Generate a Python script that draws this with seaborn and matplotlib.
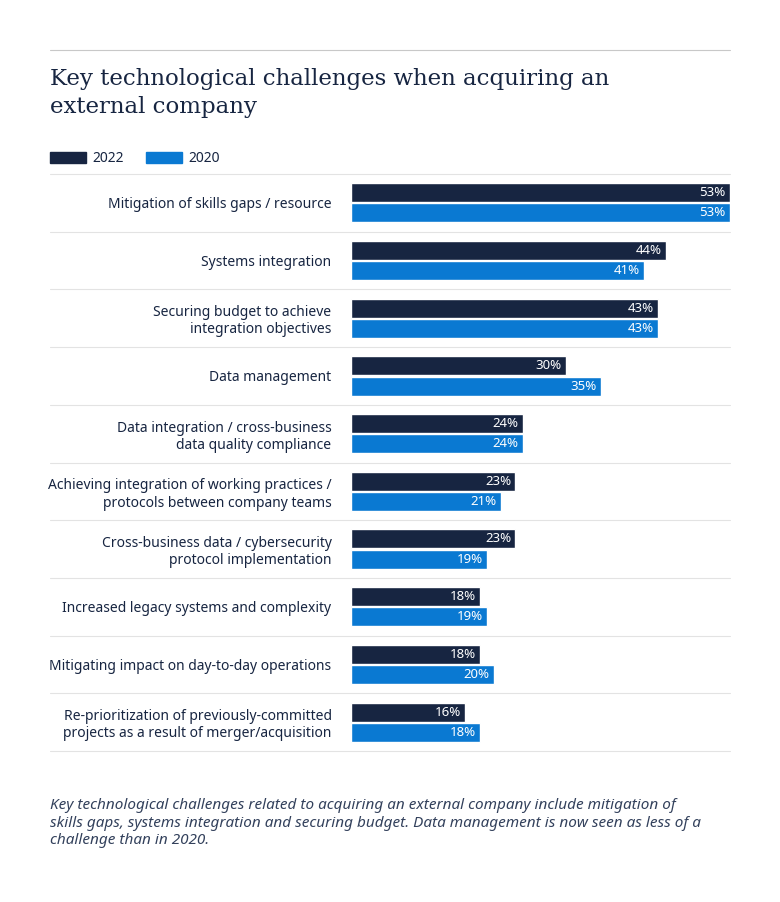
import matplotlib
matplotlib.use("Agg")
import matplotlib.pyplot as plt
import seaborn as sns
import pandas as pd

categories = [
    "Mitigation of skills gaps / resource",
    "Systems integration",
    "Securing budget to achieve\nintegration objectives",
    "Data management",
    "Data integration / cross-business\ndata quality compliance",
    "Achieving integration of working practices /\nprotocols between company teams",
    "Cross-business data / cybersecurity\nprotocol implementation",
    "Increased legacy systems and complexity",
    "Mitigating impact on day-to-day operations",
    "Re-prioritization of previously-committed\nprojects as a result of merger/acquisition",
]
values_2022 = [53, 44, 43, 30, 24, 23, 23, 18, 18, 16]
values_2020 = [53, 41, 43, 35, 24, 21, 19, 19, 20, 18]
series = ["2022", "2020"]
colors = {"2022": "#172541", "2020": "#0a79d2"}

df = pd.DataFrame({
    "category": categories * 2,
    "year": ["2022"] * len(categories) + ["2020"] * len(categories),
    "value": values_2022 + values_2020,
})

sns.set_style("white")
plt.rcParams["font.family"] = ["Noto Sans", "DejaVu Sans"]
navy = "#172541"

fig = plt.figure(figsize=(7.8, 9.02), dpi=100)
ax = fig.add_axes([351 / 780, 1 - 751 / 902, 379 / 780, 577 / 902])

sns.barplot(data=df, y="category", x="value", hue="year", hue_order=series,
            palette=colors, orient="h", width=0.7, gap=0.06, ax=ax,
            legend=False, saturation=1)

ax.set_xlim(0, 53)
ax.set_ylim(len(categories) - 0.5, -0.5)
ax.set_xlabel("")
ax.set_ylabel("")
ax.set_xticks([])
ax.tick_params(axis="y", length=0, pad=14, labelsize=10, labelcolor=navy)
for lbl in ax.get_yticklabels():
    lbl.set_multialignment("right")
for s in ax.spines.values():
    s.set_visible(False)

# row separators
for i in range(len(categories) + 1):
    ax.axhline(i - 0.5, xmin=(50 - 351) / 379, xmax=1, color="#e3e3e3",
               lw=0.8, clip_on=False)

# value labels inside bar ends
for cont in ax.containers:
    for p in cont.patches:
        w = p.get_width()
        ax.text(w - 0.6, p.get_y() + p.get_height() / 2, f"{w:.0f}%",
                ha="right", va="center", color="white", fontsize=9.5)

# top rule, title, legend
fig.add_artist(plt.Line2D([50 / 780, 730 / 780], [1 - 50 / 902] * 2,
                          color="#c8c8c8", lw=0.8))
fig.text(50 / 780, 1 - 68 / 902,
         "Key technological challenges when acquiring an\nexternal company",
         ha="left", va="top", fontsize=16.5, color=navy,
         family=["DejaVu Serif"], linespacing=1.35)

for i, yr in enumerate(series):
    x0 = (50 + i * 96) / 780
    fig.add_artist(plt.Rectangle((x0, 1 - 163 / 902), 36 / 780, 11 / 902,
                                 color=colors[yr], transform=fig.transFigure))
    fig.text(x0 + 42 / 780, 1 - 158 / 902, yr, ha="left", va="center",
             fontsize=10, color=navy)

fig.text(50 / 780, 1 - 798 / 902,
         "Key technological challenges related to acquiring an external company include mitigation of\n"
         "skills gaps, systems integration and securing budget. Data management is now seen as less of a\n"
         "challenge than in 2020.",
         ha="left", va="top", fontsize=11, style="italic", color="#33415c",
         linespacing=1.25)

fig.savefig("out.png", dpi=100)
